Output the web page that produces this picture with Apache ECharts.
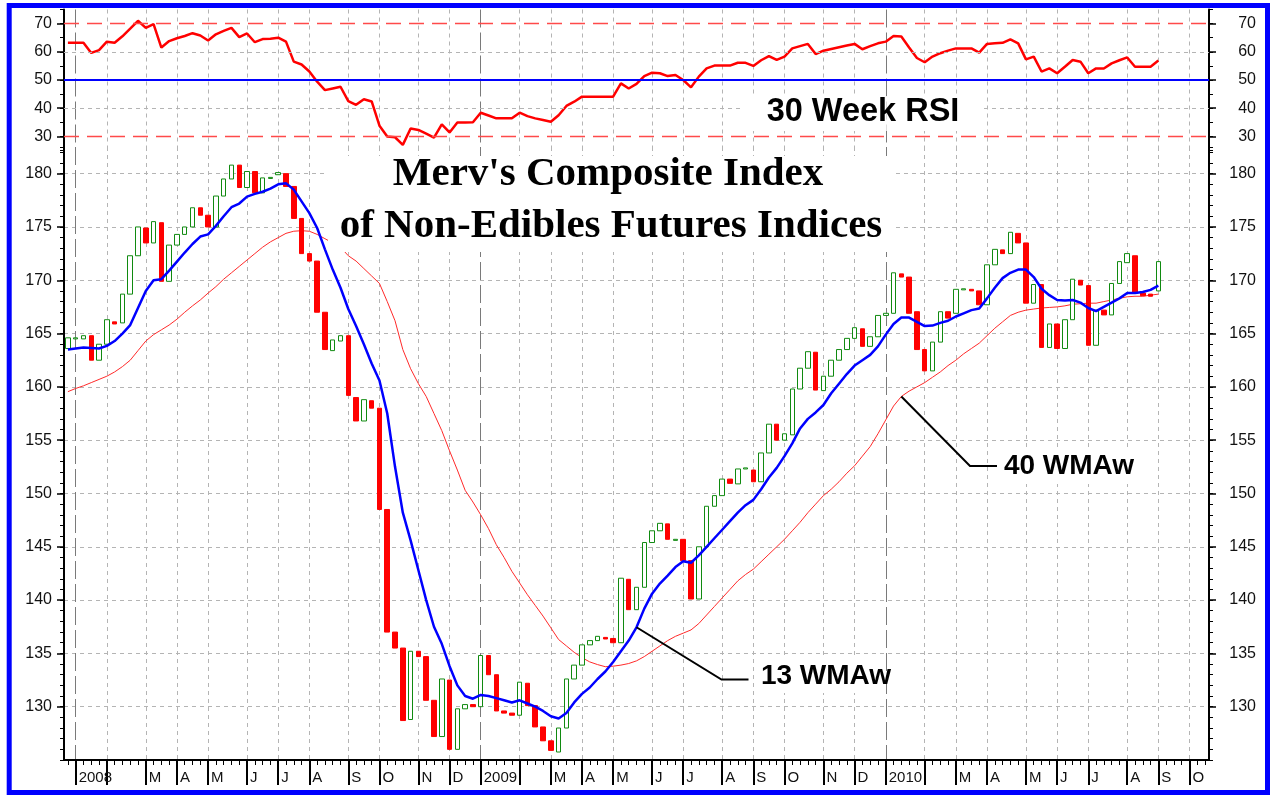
<!DOCTYPE html>
<html>
<head>
<meta charset="utf-8">
<title>Merv's Composite Index of Non-Edibles Futures Indices</title>
<script src="https://cdn.jsdelivr.net/npm/echarts@6/dist/echarts.min.js"></script>
<style>
  html, body { margin: 0; padding: 0; background: #ffffff; }
  #chart { width: 1270px; height: 796px; }
</style>
</head>
<body>
<div id="chart"></div>
<script>
// Weekly bars (Friday closes), first bar 2007-12-28
const firstWeek = Date.UTC(2007, 11, 28);
const weekCount = 147;
const weeks = [];
for (let i = 0; i < weekCount; i++) {
  weeks.push(new Date(firstWeek + i * 7 * 86400000).toISOString().slice(0, 10));
}
const monthLetters = ['J', 'F', 'M', 'A', 'M', 'J', 'J', 'A', 'S', 'O', 'N', 'D'];

// Weekly open / close of the composite index
const opens = [
  163.6, 164.5, 164.5, 164.8, 162.5, 164.0, 166.1, 166.0, 168.7, 172.3,
  174.9, 173.5, 175.4, 169.9, 173.3, 174.3, 175.0, 176.8, 176.1, 175.0,
  177.9, 179.5, 180.8, 178.7, 180.2, 178.2, 179.55, 179.9, 180.0, 178.8,
  175.8, 172.5, 171.8, 167.0, 163.4, 164.3, 164.8, 159.0, 156.8, 158.7,
  158.0, 148.5, 137.0, 135.5, 128.8, 135.2, 134.7, 130.6, 127.2, 132.5,
  126.0, 129.8, 130.2, 130.0, 134.8, 133.0, 129.6, 129.4, 129.2, 132.2,
  130.1, 128.1, 126.8, 125.75, 128.0, 132.6, 133.9, 135.8, 136.2, 136.5,
  136.4, 136.0, 141.95, 139.1, 141.2, 145.4, 146.5, 147.15, 145.6, 145.7,
  143.7, 140.1, 145.0, 148.8, 149.8, 151.35, 150.9, 152.3, 152.2, 151.1,
  153.8, 156.5, 155.0, 155.5, 159.8, 161.75, 163.25, 159.65, 161.0, 162.5,
  163.5, 164.55, 165.45, 163.8, 164.7, 166.7, 166.9, 170.6, 170.3, 167.05,
  163.5, 161.5, 164.2, 167.05, 166.9, 169.1, 169.15, 169.0, 167.7, 171.45,
  172.85, 172.5, 174.4, 173.5, 167.85, 169.6, 163.7, 165.9, 163.6, 166.3,
  170.0, 169.5, 163.9, 167.2, 166.75, 169.7, 171.65, 172.3, 168.8, 168.7,
  169.0
];
const closes = [
  164.6, 164.6, 164.8, 162.5, 164.0, 166.3, 165.9, 168.7, 172.3, 175.0,
  173.5, 175.5, 169.9, 173.3, 174.3, 175.0, 176.8, 176.1, 175.0, 177.9,
  179.5, 180.8, 178.7, 180.2, 178.2, 179.6, 179.65, 180.1, 178.8, 175.8,
  172.5, 171.8, 167.0, 163.5, 164.4, 164.8, 159.2, 156.8, 158.8, 158.0,
  148.5, 137.0, 135.5, 128.7, 135.2, 134.7, 130.6, 127.2, 132.6, 126.0,
  129.8, 130.2, 130.0, 134.8, 133.0, 129.6, 129.4, 129.2, 132.3, 130.1,
  128.1, 126.8, 125.9, 128.0, 132.6, 133.9, 135.8, 136.2, 136.6, 136.35,
  136.0, 142.05, 139.1, 141.2, 145.4, 146.5, 147.2, 145.7, 145.7, 143.7,
  140.1, 145.0, 148.8, 149.8, 151.35, 150.95, 152.3, 152.4, 151.1, 153.8,
  156.5, 155.0, 155.6, 159.8, 161.75, 163.3, 159.7, 161.0, 162.5, 163.5,
  164.55, 165.55, 163.8, 164.7, 166.7, 166.9, 170.7, 170.3, 166.9, 163.5,
  161.5, 164.2, 167.05, 166.45, 169.15, 169.2, 169.0, 167.7, 171.45, 172.9,
  172.5, 174.5, 173.5, 167.85, 169.6, 163.7, 165.9, 163.6, 166.3, 170.1,
  169.55, 163.9, 167.2, 166.75, 169.7, 171.75, 172.5, 168.8, 168.55, 168.5,
  171.75
];

// 13-week weighted moving average
const wma13 = [
  163.5, 163.6, 163.7, 163.65, 163.6, 163.85, 164.3, 165.0, 165.8, 167.4,
  169.0, 170.0, 170.1, 170.9, 171.75, 172.6, 173.4, 174.1, 174.3, 175.1,
  176.0, 176.85, 177.2, 177.85, 178.1, 178.3, 178.6, 179.0, 179.1, 178.5,
  177.4, 176.3, 174.9, 172.9, 171.0, 169.3, 167.3, 165.7, 164.0, 162.2,
  160.6, 157.5, 152.5, 148.2, 145.6, 142.8, 140.0, 137.5, 135.9, 133.8,
  132.0, 131.0, 130.75, 131.1, 131.0, 130.8, 130.6, 130.4, 130.6, 130.3,
  130.0, 129.6, 129.1, 128.9, 129.4, 130.4, 131.2, 131.8, 132.6, 133.3,
  134.2, 135.2, 136.2, 137.45, 139.2, 140.6, 141.55, 142.3, 143.1, 143.65,
  143.5, 144.2, 145.0, 145.8, 146.6, 147.4, 148.2, 148.9, 149.4, 150.4,
  151.5, 152.4, 153.5, 154.7, 156.1, 157.0, 157.6, 158.3, 159.4, 160.3,
  161.2, 162.0, 162.5, 163.0, 163.8, 164.9, 165.9, 166.5, 166.5, 166.1,
  165.7, 165.75, 166.0, 166.2, 166.6, 166.9, 167.2, 167.35, 168.3, 169.3,
  170.2, 170.7, 171.0, 171.0, 170.3, 169.2, 168.6, 168.15, 168.1, 168.15,
  167.9, 167.4, 167.1, 167.5, 167.9, 168.3, 168.8, 168.8, 168.9, 169.1,
  169.5
];

// 40-week weighted moving average
const wma40 = [
  159.55, 159.85, 160.1, 160.4, 160.7, 161.0, 161.4, 161.9, 162.5, 163.4,
  164.3, 164.9, 165.35, 165.8, 166.35, 167.0, 167.6, 168.15, 168.8, 169.4,
  170.1, 170.7, 171.3, 171.9, 172.5, 173.1, 173.6, 174.0, 174.4, 174.6,
  174.65, 174.6, 174.3, 173.9, 173.5, 173.1, 172.3, 171.8, 171.1, 170.4,
  169.7, 168.0, 166.2, 163.5, 161.7, 160.3, 159.1, 157.5, 155.9, 154.0,
  152.2, 150.3, 149.2, 148.0, 146.7, 145.2, 144.0, 142.7, 141.6, 140.5,
  139.5, 138.5, 137.4, 136.3, 135.7, 135.1, 134.6, 134.2, 133.95, 133.75,
  133.8, 133.9, 134.05, 134.3, 134.7, 135.2, 135.7, 136.2, 136.6, 136.9,
  137.2, 137.8, 138.6, 139.4, 140.2, 141.0, 141.8, 142.4, 142.9, 143.6,
  144.3, 145.0, 145.7, 146.5, 147.3, 148.2, 149.0, 149.8, 150.4, 151.1,
  151.9, 152.6, 153.5, 154.4, 155.6, 156.9, 158.2, 159.1, 159.6, 160.0,
  160.4, 160.9, 161.4, 162.0, 162.5, 163.1, 163.6, 164.1, 164.8, 165.5,
  166.1, 166.7, 167.0, 167.2, 167.3, 167.4, 167.45, 167.5, 167.6, 167.75,
  167.8, 167.85, 167.85, 168.0, 168.15, 168.3, 168.45, 168.5, 168.5, 168.6,
  168.7
];

// 30-week RSI
const rsi30 = [
  63.2, 63.2, 63.2, 59.6, 60.6, 63.6, 63.2, 65.5, 68.2, 71.0,
  68.5, 69.8, 61.5, 63.8, 64.8, 65.6, 66.6, 65.8, 64.0, 66.2,
  67.4, 68.5, 65.2, 66.5, 63.4, 64.5, 64.6, 65.0, 63.6, 56.5,
  55.5, 53.0, 49.4, 46.4, 47.0, 47.6, 42.5, 41.2, 43.2, 42.4,
  33.8, 30.0, 29.7, 27.0, 32.8, 32.3, 31.0, 29.6, 34.3, 31.4,
  34.9, 34.9, 35.0, 38.4, 37.4, 36.4, 36.4, 36.4, 38.4, 37.2,
  36.4, 35.8, 35.2, 37.5, 40.8, 42.3, 44.1, 44.1, 44.1, 44.1,
  44.1, 48.8, 47.0, 48.6, 51.4, 52.6, 52.4, 51.4, 51.8, 50.0,
  47.4, 51.2, 54.1, 55.1, 55.1, 55.1, 56.1, 56.1, 55.0, 57.0,
  58.5, 57.1, 58.3, 61.2, 62.0, 62.8, 59.2, 60.4, 61.0, 61.6,
  62.2, 62.8, 60.9, 62.0, 63.0, 63.6, 65.6, 65.4, 61.5, 57.8,
  56.3, 58.3, 59.5, 60.4, 61.2, 61.2, 61.2, 59.7, 62.8, 63.0,
  63.2, 64.4, 63.0, 57.3, 58.3, 53.0, 54.1, 52.4, 54.7, 57.1,
  56.5, 52.4, 54.1, 54.1, 55.9, 57.0, 58.0, 54.7, 54.7, 54.7,
  56.9
];

// Candles drawn as open/close bodies only
const candleData = opens.map((o, i) => {
  const c = closes[i];
  return [o, c, Math.min(o, c), Math.max(o, c)];
});

const monthOf = (w) => w.slice(5, 7);
const monthStart = weeks.map((w, i) => i > 0 && monthOf(w) !== monthOf(weeks[i - 1]));
const yearStart = weeks.map((w, i) => monthStart[i] && monthOf(w) === '01');

const sans = '"Liberation Sans", Arial, Helvetica, sans-serif';
const serif = '"Liberation Serif", "Times New Roman", serif';
const gridDash = { color: '#b4b4b4', width: 1, type: [4, 4] };
const yearDash = { color: '#7a7a7a', width: 1, type: [18, 5] };
const redDash = { color: '#ff4a4a', width: 1.3, type: [15, 8] };

function catAxis(gridIndex, extra) {
  return Object.assign({
    type: 'category', gridIndex: gridIndex, position: 'bottom', data: weeks, boundaryGap: true,
    axisLine: { show: false }, axisTick: { show: false }, axisLabel: { show: false }, splitLine: { show: false }
  }, extra);
}
function valAxis(gridIndex, position, extra) {
  return Object.assign({
    type: 'value', gridIndex: gridIndex, position: position,
    axisLine: { show: false }, axisTick: { show: false }, axisLabel: { show: false }, splitLine: { show: false }
  }, extra);
}
const axisLineOn = { show: true, onZero: false, lineStyle: { color: '#000', width: 2 } };
const majorTick = { show: true, length: 7, lineStyle: { color: '#000', width: 1.5 } };
const minorTickStyle = { show: true, length: 4, lineStyle: { color: '#000', width: 1 } };
const leftLabel = { show: true, margin: 12, fontSize: 16, fontFamily: sans, color: '#111', showMinLabel: false, showMaxLabel: false };
const rightLabel = Object.assign({}, leftLabel, { margin: 47, align: 'right' });

const option = {
  animation: false,
  backgroundColor: '#ffffff',
  grid: [
    { left: 64, right: 61, top: 9.5, height: 141 },
    { left: 64, right: 61, top: 147, height: 613 }
  ],
  xAxis: [
    catAxis(0, { splitLine: { show: true, interval: (i) => monthStart[i] && !yearStart[i], alignWithLabel: true, lineStyle: gridDash } }),
    catAxis(0, { splitLine: { show: true, interval: (i) => yearStart[i], alignWithLabel: true, lineStyle: yearDash } }),
    catAxis(1, {
      axisTick: { show: true, alignWithLabel: true, interval: (i) => monthStart[i], length: 25, lineStyle: { color: '#000', width: 2 } },
      axisLabel: {
        show: true, interval: (i) => monthStart[i], align: 'left', padding: [0, 0, 0, 3], margin: 10,
        fontSize: 15, fontFamily: sans, color: '#111',
        formatter: (v) => {
          const m = parseInt(v.slice(5, 7), 10) - 1;
          if (m === 0) return v.slice(0, 4);
          if (m === 1) return '';
          return monthLetters[m];
        }
      },
      splitLine: { show: true, interval: (i) => monthStart[i] && !yearStart[i], alignWithLabel: true, lineStyle: gridDash }
    }),
    catAxis(1, {
      axisLine: axisLineOn,
      axisTick: { show: true, alignWithLabel: true, interval: 0, length: 5, lineStyle: { color: '#000', width: 1 } },
      splitLine: { show: true, interval: (i) => yearStart[i], alignWithLabel: true, lineStyle: yearDash }
    })
  ],
  yAxis: [
    // RSI panel
    valAxis(0, 'left', { min: 25, max: 75, splitNumber: 5, minInterval: 10, maxInterval: 10, axisLine: axisLineOn, axisTick: majorTick, axisLabel: leftLabel }),
    valAxis(0, 'right', { min: 25, max: 75, splitNumber: 5, minInterval: 10, maxInterval: 10, axisLine: axisLineOn, axisTick: majorTick, axisLabel: rightLabel }),
    valAxis(0, 'left', { min: 25, max: 75, interval: 5, axisTick: minorTickStyle }),
    valAxis(0, 'right', { min: 25, max: 75, interval: 5, axisTick: minorTickStyle }),
    // price panel
    valAxis(1, 'left', {
      min: 125, max: 182.5, splitNumber: 5, minInterval: 5, maxInterval: 5, axisLine: axisLineOn, axisTick: majorTick, axisLabel: leftLabel,
      splitLine: { show: true, showMinLine: false, showMaxLine: false, lineStyle: gridDash }
    }),
    valAxis(1, 'right', { min: 125, max: 182.5, splitNumber: 5, minInterval: 5, maxInterval: 5, axisLine: axisLineOn, axisTick: majorTick, axisLabel: rightLabel }),
    valAxis(1, 'left', { min: 125, max: 182.5, interval: 1, axisTick: minorTickStyle }),
    valAxis(1, 'right', { min: 125, max: 182.5, interval: 1, axisTick: minorTickStyle })
  ],
  series: [
    {
      name: '30 Week RSI', type: 'line', xAxisIndex: 0, yAxisIndex: 0, data: rsi30,
      symbol: 'none', silent: true, z: 2,
      lineStyle: { color: '#ff0000', width: 2.5 },
      markLine: {
        silent: true, symbol: ['none', 'none'], label: { show: false }, animation: false,
        emphasis: { disabled: true },
        data: [
          { yAxis: 40, lineStyle: gridDash },
          { yAxis: 60, lineStyle: gridDash },
          { yAxis: 30, lineStyle: redDash },
          { yAxis: 70, lineStyle: redDash },
          { yAxis: 50, lineStyle: { color: '#0000ff', width: 2, type: 'solid' } }
        ]
      }
    },
    {
      name: 'Composite', type: 'candlestick', xAxisIndex: 2, yAxisIndex: 4, data: candleData,
      barWidth: 5, silent: true, z: 2,
      itemStyle: { color: '#ffffff', color0: '#ff0000', borderColor: '#108a10', borderColor0: '#ff0000', borderWidth: 1 }
    },
    {
      name: '40 WMAw', type: 'line', xAxisIndex: 2, yAxisIndex: 4, data: wma40,
      symbol: 'none', silent: true, z: 2, lineStyle: { color: '#ff2a2a', width: 1 }
    },
    {
      name: '13 WMAw', type: 'line', xAxisIndex: 2, yAxisIndex: 4, data: wma13,
      symbol: 'none', silent: true, z: 4, lineStyle: { color: '#0000ff', width: 2.5 }
    }
  ]
};

const chart = echarts.init(document.getElementById('chart'), null, { renderer: 'canvas', width: 1270, height: 796 });
chart.setOption(option);

// Callout anchors sit on the moving-average curves
const p13 = chart.convertToPixel({ xAxisIndex: 2, yAxisIndex: 4 }, [weeks[73], wma13[73]]);
const p40 = chart.convertToPixel({ xAxisIndex: 2, yAxisIndex: 4 }, [weeks[107], wma40[107]]);
// The 2010 year rule stays visible through the RSI caption backing
const year2010X = chart.convertToPixel({ xAxisIndex: 1 }, '2010-01-01');

function label(text, x, y, font) {
  return {
    type: 'text', z: 11, silent: true,
    style: { text: text, x: x, y: y, font: font, fill: '#000', align: 'center', verticalAlign: 'middle', textAlign: 'center', textVerticalAlign: 'middle' }
  };
}
function box(x, y, w, h) {
  return { type: 'rect', z: 10, silent: true, shape: { x: x, y: y, width: w, height: h }, style: { fill: '#ffffff' } };
}

chart.setOption({
  graphic: [
    box(328, 156, 568, 96),
    label("Merv's Composite Index", 608, 174.5, 'bold 41px ' + serif),
    label('of Non-Edibles Futures Indices', 611, 226.5, 'bold 41px ' + serif),
    box(743, 96, year2010X - 0.5 - 743, 35),
    box(year2010X + 0.5, 96, 982 - year2010X - 0.5, 35),
    label('30 Week RSI', 863, 112, 'bold 32.5px ' + sans),
    box(757, 657, 127, 36),
    label('13 WMAw', 826, 676, 'bold 28px ' + sans),
    box(993, 448, 156, 36),
    label('40 WMAw', 1069, 466, 'bold 28px ' + sans),
    {
      type: 'polyline', z: 12, silent: true,
      shape: { points: [p13, [721.5, 679.5], [748.5, 679.5]] },
      style: { stroke: '#000', lineWidth: 2, fill: null }
    },
    {
      type: 'polyline', z: 12, silent: true,
      shape: { points: [p40, [970, 466], [997, 466]] },
      style: { stroke: '#000', lineWidth: 2, fill: null }
    },
    {
      type: 'rect', z: 100, silent: true,
      shape: { x: 9.2, y: 5.5, width: 1258.3, height: 787 },
      style: { fill: null, stroke: '#0000ff', lineWidth: 5 }
    }
  ]
});
</script>
</body>
</html>
